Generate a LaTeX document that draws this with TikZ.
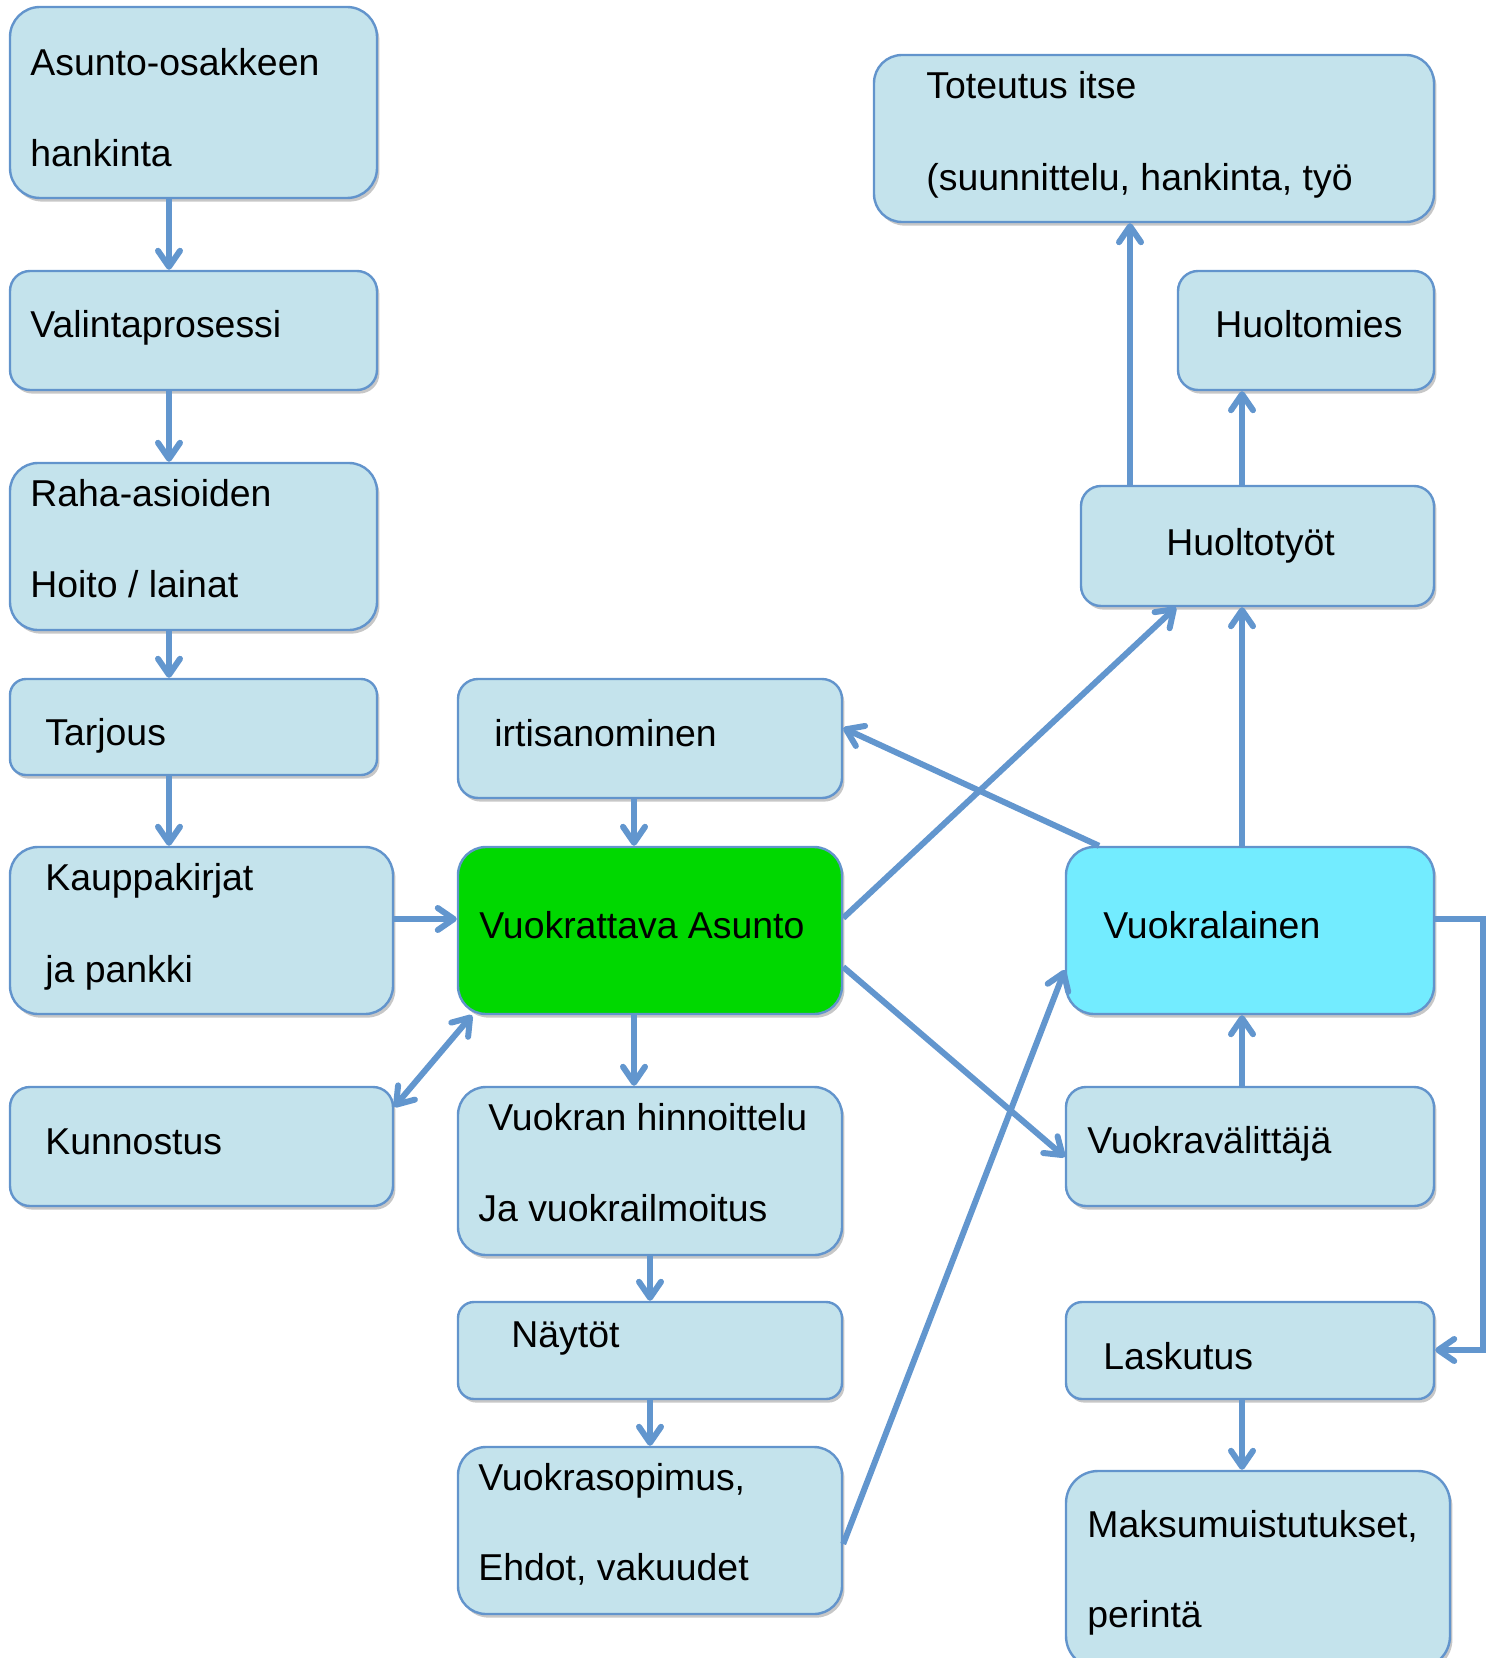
\documentclass[tikz,border=0pt]{standalone}
\usepackage{fontspec}
\setmainfont{Liberation Sans}
\usetikzlibrary{arrows.meta,shadows}
\definecolor{boxfill}{RGB}{196,227,236}
\definecolor{edgecol}{RGB}{98,148,204}
\definecolor{linecol}{RGB}{98,150,206}
\definecolor{greenfill}{RGB}{0,216,0}
\definecolor{cyanfill}{RGB}{115,236,255}
\newcommand\mkbox[7]{\node[box,#7,minimum width={(#4-#2)*0.5pt},minimum height={(#5-#3)*0.5pt},rounded corners=#6] (#1) at ({(#2+#4)/2},{(#3+#5)/2}) {};}
\begin{document}
\begin{tikzpicture}[x=0.5pt,y=-0.5pt,
  box/.style={draw=edgecol,line width=1.2pt,fill=boxfill,inner sep=0pt,
    drop shadow={shadow xshift=1.2pt,shadow yshift=-1.8pt,fill=black,opacity=0.22}},
  txt/.style={anchor=base west,inner sep=0pt,font=\fontsize{18.7pt}{22pt}\selectfont},
  arr/.style={draw=linecol,line width=3pt,-{Straight Barb[round,length=8pt,width=11pt]}},
  darr/.style={draw=linecol,line width=3pt,{Straight Barb[round,length=8pt,width=11pt]}-{Straight Barb[round,length=8pt,width=11pt]}},
  plain/.style={draw=linecol,line width=3pt}]
\useasboundingbox (0,0) rectangle (1498,1658);
% left column
\mkbox{A1}{10}{7}{377}{198}{15pt}{}
\mkbox{A2}{10}{271}{377}{390}{10pt}{}
\mkbox{A3}{10}{463}{377}{630}{14pt}{}
\mkbox{A4}{10}{679}{377}{775}{8pt}{}
\mkbox{A5}{10}{847}{393}{1014}{14pt}{}
\mkbox{A6}{10}{1087}{393}{1206}{10pt}{}
% middle column
\mkbox{B1}{458}{679}{842}{798}{10pt}{}
\mkbox{B2}{458}{847}{842}{1014}{14pt}{fill=greenfill}
\mkbox{B3}{458}{1087}{842}{1255}{14pt}{}
\mkbox{B4}{458}{1302}{842}{1399}{8pt}{}
\mkbox{B5}{458}{1447}{842}{1614}{14pt}{}
% right column
\mkbox{C1}{874}{55}{1434}{222}{14pt}{}
\mkbox{C2}{1178}{271}{1434}{390}{10pt}{}
\mkbox{C3}{1081}{486}{1434}{606}{10pt}{}
\mkbox{C4}{1066}{847}{1434}{1014}{14pt}{fill=cyanfill}
\mkbox{C5}{1066}{1087}{1434}{1206}{10pt}{}
\mkbox{C6}{1066}{1302}{1434}{1399}{8pt}{}
\mkbox{C7}{1066}{1471}{1450}{1668}{16pt}{}
% texts
\node[txt] (tA1a) at (30,76) {Asunto-osakkeen};
\node[txt] (tA1b) at (30,167) {hankinta};
\node[txt] (tA2) at (30,338) {Valintaprosessi};
\node[txt] (tA3a) at (30,506) {Raha-asioiden};
\node[txt] (tA3b) at (30,597) {Hoito / lainat};
\node[txt] (tA4) at (45,745) {Tarjous};
\node[txt] (tA5a) at (45,890) {Kauppakirjat};
\node[txt] (tA5b) at (45,982) {ja pankki};
\node[txt] (tA6) at (45,1154) {Kunnostus};
\node[txt] (tB1) at (494,746) {irtisanominen};
\node[txt] (tB2) at (479,938) {Vuokrattava Asunto};
\node[txt] (tB3a) at (488,1130) {Vuokran hinnoittelu};
\node[txt] (tB3b) at (478,1221) {Ja vuokrailmoitus};
\node[txt] (tB4) at (511,1347) {Näytöt};
\node[txt] (tB5a) at (478,1490) {Vuokrasopimus,};
\node[txt] (tB5b) at (478,1580) {Ehdot, vakuudet};
\node[txt] (tC1a) at (926,99) {Toteutus itse};
\node[txt] (tC1b) at (926,191) {(suunnittelu, hankinta, työ};
\node[txt] (tC2) at (1215,338) {Huoltomies};
\node[txt] (tC3) at (1166,555) {Huoltotyöt};
\node[txt] (tC4) at (1103,938) {Vuokralainen};
\node[txt] (tC5) at (1087,1153) {Vuokravälittäjä};
\node[txt] (tC6) at (1103,1369) {Laskutus};
\node[txt] (tC7a) at (1087,1537) {Maksumuistutukset,};
\node[txt] (tC7b) at (1087,1627) {perintä};
% connectors
\draw[arr] (169,0 |- A1.south) -- (169,0 |- A2.north);
\draw[arr] (169,0 |- A2.south) -- (169,0 |- A3.north);
\draw[arr] (169,0 |- A3.south) -- (169,0 |- A4.north);
\draw[arr] (169,0 |- A4.south) -- (169,0 |- A5.north);
\draw[arr] (A5.east |- 0,919) -- (B2.west |- 0,919);
\draw[darr] (A6.east |- 0,1107) -- (472,0 |- B2.south);
\draw[arr] (634,0 |- B1.south) -- (634,0 |- B2.north);
\draw[arr] (634,0 |- B2.south) -- (634,0 |- B3.north);
\draw[arr] (650,0 |- B3.south) -- (650,0 |- B4.north);
\draw[arr] (650,0 |- B4.south) -- (650,0 |- B5.north);
\draw[arr] (B5.east |- 0,1544) -- (C4.west |- 0,970);
\draw[arr] (B2.east |- 0,918) -- (1176,0 |- C3.south);
\draw[arr] (B2.east |- 0,967) -- (C5.west |- 0,1157);
\draw[arr] (1099,0 |- C4.north) -- (B1.east |- 0,728);
\draw[arr] (1242,0 |- C4.north) -- (1242,0 |- C3.south);
\draw[arr] (1242,0 |- C3.north) -- (1242,0 |- C2.south);
\draw[arr] (1130,0 |- C3.north) -- (1130,0 |- C1.south);
\draw[arr] (1242,0 |- C5.north) -- (1242,0 |- C4.south);
\draw[arr] (1242,0 |- C6.south) -- (1242,0 |- C7.north);
\draw[arr] (C4.east |- 0,919) -- (1483,0 |- C4.east |- 0,919) |- (C6.east |- 0,1350);
\end{tikzpicture}
\end{document}
